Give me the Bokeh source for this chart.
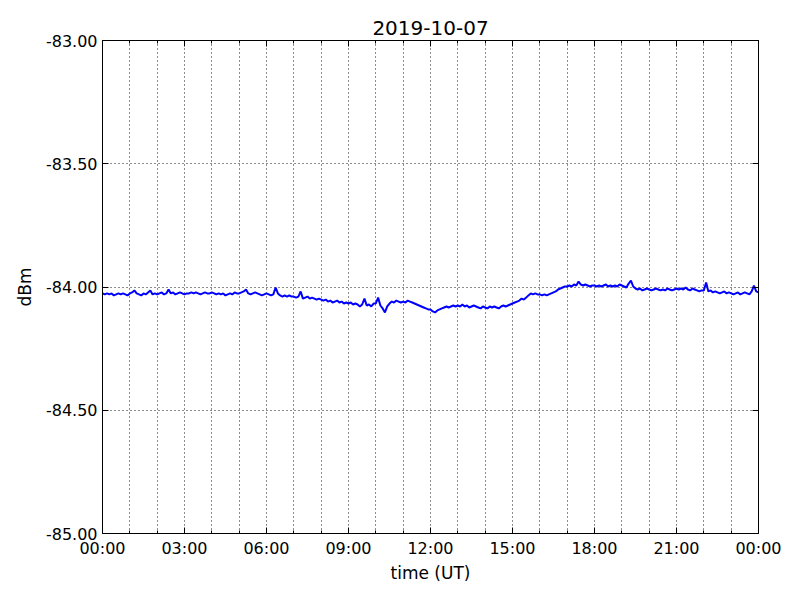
from bokeh.plotting import figure
from bokeh.models import (FixedTicker, LinearAxis, Grid, PrintfTickFormatter, Range1d)
from bokeh.embed import file_html
from bokeh.resources import INLINE

title_text = "2019-10-07"
x_label = "time (UT)"
y_label = "dBm"

# values every 5 minutes, one row per hour (UT), in dBm
h00 = [-84.026,-84.030,-84.026,-84.030,-84.026,-84.034,-84.030,-84.026,-84.030,-84.026,-84.030,-84.034]
h01 = [-84.026,-84.022,-84.014,-84.026,-84.030,-84.034,-84.026,-84.030,-84.022,-84.014,-84.030,-84.026]
h02 = [-84.030,-84.026,-84.022,-84.030,-84.026,-84.010,-84.026,-84.022,-84.030,-84.026,-84.022,-84.026]
h03 = [-84.030,-84.026,-84.026,-84.022,-84.026,-84.022,-84.026,-84.030,-84.026,-84.022,-84.026,-84.026]
h04 = [-84.022,-84.026,-84.030,-84.026,-84.030,-84.026,-84.034,-84.030,-84.026,-84.030,-84.022,-84.026]
h05 = [-84.026,-84.022,-84.018,-84.010,-84.026,-84.030,-84.026,-84.022,-84.026,-84.030,-84.034,-84.030]
h06 = [-84.026,-84.030,-84.034,-84.030,-84.002,-84.026,-84.034,-84.039,-84.034,-84.039,-84.034,-84.039]
h07 = [-84.039,-84.043,-84.039,-84.018,-84.047,-84.043,-84.039,-84.047,-84.043,-84.047,-84.051,-84.047]
h08 = [-84.051,-84.055,-84.051,-84.059,-84.055,-84.063,-84.059,-84.055,-84.063,-84.059,-84.067,-84.063]
h09 = [-84.067,-84.063,-84.071,-84.067,-84.071,-84.079,-84.071,-84.047,-84.075,-84.071,-84.079,-84.067]
h10 = [-84.067,-84.043,-84.075,-84.087,-84.103,-84.079,-84.067,-84.059,-84.063,-84.055,-84.059,-84.063]
h11 = [-84.059,-84.063,-84.055,-84.059,-84.063,-84.067,-84.071,-84.075,-84.079,-84.083,-84.087,-84.091]
h12 = [-84.091,-84.099,-84.103,-84.095,-84.091,-84.087,-84.083,-84.079,-84.083,-84.079,-84.075,-84.079]
h13 = [-84.075,-84.079,-84.071,-84.079,-84.075,-84.083,-84.079,-84.075,-84.079,-84.083,-84.087,-84.079]
h14 = [-84.083,-84.087,-84.079,-84.083,-84.079,-84.083,-84.087,-84.079,-84.075,-84.079,-84.075,-84.071]
h15 = [-84.067,-84.063,-84.059,-84.055,-84.047,-84.051,-84.043,-84.034,-84.026,-84.030,-84.026,-84.030]
h16 = [-84.030,-84.034,-84.030,-84.034,-84.030,-84.026,-84.022,-84.018,-84.010,-84.006,-84.002,-83.998]
h17 = [-83.998,-83.994,-83.998,-83.990,-83.994,-83.978,-83.990,-83.994,-83.990,-83.994,-83.998,-83.994]
h18 = [-83.994,-83.998,-83.994,-83.998,-83.994,-83.990,-83.998,-83.994,-83.998,-83.994,-83.998,-83.990]
h19 = [-83.994,-83.998,-84.002,-83.986,-83.974,-83.998,-84.006,-84.010,-84.006,-84.014,-84.010,-84.006]
h20 = [-84.010,-84.014,-84.010,-84.006,-84.010,-84.014,-84.010,-84.014,-84.006,-84.010,-84.014,-84.010]
h21 = [-84.006,-84.010,-84.006,-84.010,-84.002,-84.010,-84.014,-84.006,-84.010,-84.014,-84.018,-84.014]
h22 = [-84.014,-83.982,-84.018,-84.014,-84.022,-84.018,-84.022,-84.026,-84.022,-84.018,-84.026,-84.022]
h23 = [-84.026,-84.030,-84.026,-84.022,-84.030,-84.026,-84.022,-84.026,-84.030,-84.018,-83.994,-84.018]
h24 = [-84.022]

hours_rows = [h00,h01,h02,h03,h04,h05,h06,h07,h08,h09,h10,h11,
              h12,h13,h14,h15,h16,h17,h18,h19,h20,h21,h22,h23,h24]
dbm = [v for row in hours_rows for v in row]
t_hours = [i * 5 / 60 for i in range(len(dbm))]

y_ticks = [-85.0, -84.5, -84.0, -83.5, -83.0]
x_ticks = [0, 3, 6, 9, 12, 15, 18, 21, 24]
x_tick_labels = ["00:00", "03:00", "06:00", "09:00", "12:00", "15:00", "18:00", "21:00", "00:00"]
x_minor = list(range(25))

FONT = "DejaVu Sans"

p = figure(width=790, height=590, output_backend="svg", toolbar_location=None,
           x_range=Range1d(0, 24), y_range=Range1d(-85, -83),
           x_axis_type=None, y_axis_type=None,
           min_border_left=102, min_border_right=32, min_border_top=40, min_border_bottom=57)
p.frame_width = 656
p.frame_height = 493

p.title.text = title_text
p.title.align = "center"
p.title.text_font = FONT
p.title.text_font_size = "20px"
p.title.text_font_style = "normal"
p.title.text_color = "black"
p.title.standoff = 12

p.outline_line_color = "black"
p.outline_line_width = 1
p.outline_line_alpha = 1
p.background_fill_color = "white"
p.border_fill_color = "white"

xt = FixedTicker(ticks=x_ticks, minor_ticks=x_minor)
yt = FixedTicker(ticks=y_ticks, minor_ticks=[])

def style_axis(ax, labels=True):
    ax.axis_line_color = "black"
    ax.major_tick_in = 6
    ax.major_tick_out = 0
    ax.minor_tick_in = 3
    ax.minor_tick_out = 0
    ax.major_tick_line_color = "black"
    ax.minor_tick_line_color = "black"
    ax.major_label_text_font = FONT
    ax.major_label_text_font_size = "16px"
    ax.major_label_text_color = "black"
    ax.axis_label_text_font = FONT
    ax.axis_label_text_font_size = "17px"
    ax.axis_label_text_font_style = "normal"
    ax.axis_label_text_color = "black"
    if not labels:
        ax.major_label_text_font_size = "0px"
        ax.major_label_text_alpha = 0

xb = LinearAxis(ticker=xt, axis_label=x_label)
xb.major_label_overrides = {t: l for t, l in zip(x_ticks, x_tick_labels)}
style_axis(xb)
xb.major_label_standoff = 5
xb.axis_label_standoff = 2
p.add_layout(xb, "below")

yl = LinearAxis(ticker=yt, axis_label=y_label, formatter=PrintfTickFormatter(format="%.2f"))
style_axis(yl)
yl.major_label_standoff = 5
yl.axis_label_standoff = 8
p.add_layout(yl, "left")

xa = LinearAxis(ticker=xt)
style_axis(xa, labels=False)
xa.major_label_overrides = {t: "" for t in x_ticks}
p.add_layout(xa, "above")

yr = LinearAxis(ticker=yt)
style_axis(yr, labels=False)
yr.major_label_overrides = {t: "" for t in y_ticks}
p.add_layout(yr, "right")

gx = Grid(dimension=0, ticker=FixedTicker(ticks=x_minor), grid_line_color="black",
          grid_line_dash="1 3", grid_line_width=1, grid_line_alpha=0.9)
gy = Grid(dimension=1, ticker=yt, grid_line_color="black",
          grid_line_dash="1 3", grid_line_width=1, grid_line_alpha=0.9)
p.add_layout(gx)
p.add_layout(gy)

p.line(t_hours, dbm, line_color="#0000ff", line_width=2)

open("out.html", "w").write(file_html(p, INLINE))
